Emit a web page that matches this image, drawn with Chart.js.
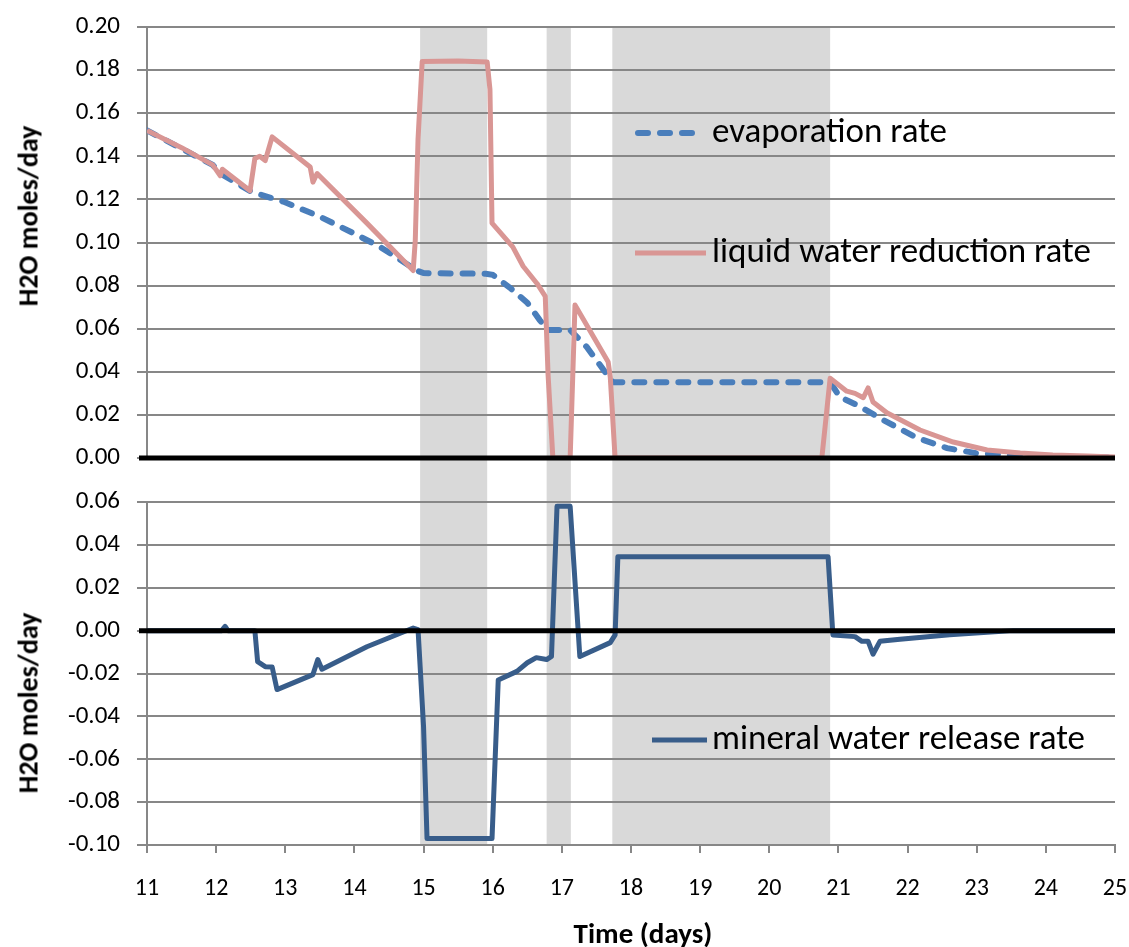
<!DOCTYPE html>
<html>
<head>
<meta charset="utf-8">
<title>H2O rates</title>
<script src="https://cdn.jsdelivr.net/npm/chart.js@4.4.1/dist/chart.umd.min.js"></script>
<style>
  body { margin: 0; background: #fff; }
  #wrap { position: relative; width: 1129px; height: 947px; font-family: Carlito, Lato, sans-serif; color: #000; }
  canvas { position: absolute; left: 0; }
  #topChart { top: 0; }
  #botChart { top: 480px; }
  .ytitle { position: absolute; font-weight: bold; font-size: 28px; white-space: nowrap;
            transform: translate(-50%, -50%) rotate(-90deg); }
  .xtitle { position: absolute; font-weight: bold; font-size: 29px; white-space: nowrap;
            transform: translate(-50%, -50%); }
</style>
</head>
<body>
<div id="wrap">
  <canvas id="topChart" width="1129" height="480"></canvas>
  <canvas id="botChart" width="1129" height="467"></canvas>
  <div class="ytitle" style="left:28px; top:216px;">H2O moles/day</div>
  <div class="ytitle" style="left:28px; top:703px;">H2O moles/day</div>
  <div class="xtitle" style="left:643px; top:933px;">Time (days)</div>
</div>
<script>
// time axis (days)
const timeMin = 11, timeMax = 25;

// periods shaded in grey, [start, end] in days
const shadedPeriods = [[14.95, 15.92], [16.78, 17.13], [17.73, 20.88]];

// liquid water reduction rate
const liquidT = [11.0, 11.5, 11.95, 12.06, 12.09, 12.49, 12.56, 12.63, 12.71, 12.81, 13.36, 13.40, 13.46, 14.18, 14.85,
  14.88, 14.92, 14.98, 15.50, 15.92, 15.96, 15.99, 16.29, 16.44, 16.64, 16.76, 16.80, 16.87, 17.12, 17.19, 17.67, 17.70,
  17.77, 20.76, 20.88, 21.12, 21.24, 21.36, 21.43, 21.50, 21.70, 22.18, 22.66, 23.15, 23.63, 24.10, 24.60, 25.0];
const liquidV = [0.152, 0.144, 0.136, 0.131, 0.134, 0.124, 0.139, 0.140, 0.138, 0.149, 0.135, 0.128, 0.132, 0.109, 0.087,
  0.101, 0.148, 0.184, 0.1842, 0.1838, 0.171, 0.109, 0.098, 0.089, 0.081, 0.075, 0.039, 0.0, 0.0, 0.071, 0.0445, 0.0376,
  0.0, 0.0, 0.037, 0.031, 0.030, 0.028, 0.0325, 0.026, 0.021, 0.013, 0.0074, 0.0037, 0.0023, 0.0014, 0.0009, 0.0005];

// evaporation rate
const evapT = [11.0, 11.95, 12.06, 12.52, 12.97, 13.5, 13.98, 14.37, 14.66, 14.9, 15.0, 15.9, 16.0, 16.25, 16.5, 16.68,
  16.8, 17.12, 17.36, 17.6, 17.74, 20.88, 21.02, 21.27, 21.65, 22.14, 22.57, 23.0, 23.5, 24.0, 25.0];
const evapV = [0.152, 0.136, 0.132, 0.1234, 0.119, 0.112, 0.1044, 0.098, 0.092, 0.087, 0.0858, 0.0855, 0.085, 0.079,
  0.072, 0.064, 0.0594, 0.0594, 0.0515, 0.041, 0.0352, 0.0352, 0.0283, 0.0246, 0.0176, 0.0093, 0.0046, 0.0022, 0.0012,
  0.0006, 0.0002];

// mineral water release rate
const mineralT = [11.0, 12.08, 12.13, 12.17, 12.56, 12.60, 12.71, 12.81, 12.88, 13.40, 13.47, 13.53, 14.18, 14.85, 14.92,
  15.0, 15.05, 15.99, 16.08, 16.35, 16.50, 16.63, 16.78, 16.85, 16.93, 17.12, 17.26, 17.70, 17.77, 17.81, 20.85, 20.92,
  21.24, 21.34, 21.43, 21.50, 21.60, 21.89, 22.61, 23.53, 25.0];
const mineralV = [0, 0, 0.002, 0, 0, -0.0145, -0.0168, -0.017, -0.0275, -0.0205, -0.0135, -0.018, -0.0075, 0.0012, 0.0005,
  -0.045, -0.097, -0.097, -0.023, -0.019, -0.015, -0.0126, -0.0135, -0.012, 0.058, 0.058, -0.0121, -0.0056, -0.002, 0.0345,
  0.0345, -0.002, -0.0028, -0.005, -0.005, -0.011, -0.005, -0.004, -0.0019, 0, 0];

// y tick ranges
const topTicks = { min: 0, max: 0.20, step: 0.02 };
const botTicks = { min: -0.10, max: 0.06, step: 0.02 };

const points = (ts, vs) => ts.map((t, i) => ({ x: t, y: vs[i] }));

const FONT = 'Carlito, Lato, sans-serif';
const GRID = '#878787';

// grey bands behind everything
const shading = {
  id: 'shading',
  beforeDraw(chart, args, opts) {
    const { ctx, chartArea } = chart;
    const xs = chart.scales.x;
    const y0 = opts.toTop ? 0 : chartArea.top;
    const y1 = opts.toBottom ? chart.height : chartArea.bottom;
    ctx.save();
    ctx.fillStyle = '#d9d9d9';
    shadedPeriods.forEach(([a, b]) => {
      const x0 = xs.getPixelForValue(a), x1 = xs.getPixelForValue(b);
      ctx.fillRect(x0, y0, x1 - x0, y1 - y0);
    });
    ctx.restore();
  }
};

// heavy black line at zero, over the series
const zeroLine = {
  id: 'zeroLine',
  afterDatasetsDraw(chart) {
    const { ctx, chartArea } = chart;
    const y = chart.scales.y.getPixelForValue(0);
    ctx.save();
    ctx.strokeStyle = '#000';
    ctx.lineWidth = 5;
    ctx.beginPath();
    ctx.moveTo(chartArea.left - 8, y);
    ctx.lineTo(chartArea.right, y);
    ctx.stroke();
    ctx.restore();
  }
};

// legend entries placed inside the plot
const inlineLegend = {
  id: 'inlineLegend',
  afterDraw(chart, args, opts) {
    const { ctx } = chart;
    (opts.items || []).forEach(it => {
      const ds = chart.data.datasets[it.index];
      ctx.save();
      ctx.strokeStyle = ds.borderColor;
      ctx.lineWidth = ds.borderWidth;
      ctx.lineCap = ds.borderCapStyle || 'butt';
      ctx.setLineDash(ds.borderDash || []);
      ctx.beginPath();
      ctx.moveTo(it.x0, it.y);
      ctx.lineTo(it.x1, it.y);
      ctx.stroke();
      ctx.setLineDash([]);
      ctx.fillStyle = '#000';
      ctx.font = '35px ' + FONT;
      ctx.textBaseline = 'middle';
      ctx.fillText(ds.label, it.tx, it.y);
      ctx.restore();
    });
  }
};

// let the layout padding alone decide where the plot area sits
function noOverflow(s) {
  s.paddingTop = s.paddingBottom = s.paddingLeft = s.paddingRight = 0;
}

function yScale(r) {
  return {
    min: r.min, max: r.max,
    afterFit(s) { s.width = 147; noOverflow(s); },
    border: { color: GRID, width: 2 },
    grid: { color: GRID, lineWidth: 2, tickLength: 10 },
    ticks: {
      stepSize: r.step, padding: 17, color: '#000', font: { size: 25, family: FONT },
      callback: v => (Math.abs(v) < 1e-9 ? 0 : v).toFixed(2)
    }
  };
}

function xScale(show) {
  return {
    type: 'linear', min: timeMin, max: timeMax, display: show,
    afterFit(s) { if (show) s.height = 70; noOverflow(s); },
    border: { color: GRID, width: 2 },
    grid: { drawOnChartArea: false, color: GRID, lineWidth: 2, tickLength: 8 },
    ticks: { stepSize: 1, padding: 22, color: '#000', font: { size: 24, family: FONT }, maxRotation: 0 }
  };
}

const base = {
  responsive: false,
  animation: false,
  devicePixelRatio: 1,
  elements: { point: { radius: 0 }, line: { tension: 0 } },
};

new Chart(document.getElementById('topChart'), {
  type: 'line',
  data: {
    datasets: [
      { label: 'liquid water reduction rate', data: points(liquidT, liquidV), borderColor: '#d99694',
        borderWidth: 5, borderJoinStyle: 'round' },
      { label: 'evaporation rate', data: points(evapT, evapV), borderColor: '#4a7ebb',
        borderWidth: 6, borderDash: [10, 12], borderCapStyle: 'round' }
    ]
  },
  options: {
    ...base,
    layout: { padding: { top: 27, right: 14, bottom: 22, left: 0 } },
    scales: { x: xScale(false), y: yScale(topTicks) },
    plugins: {
      legend: { display: false }, tooltip: { enabled: false },
      shading: { toBottom: true },
      inlineLegend: { items: [
        { index: 1, x0: 638, x1: 698, y: 133, tx: 712 },
        { index: 0, x0: 635, x1: 706, y: 253, tx: 712 }
      ] }
    }
  },
  plugins: [shading, zeroLine, inlineLegend]
});

new Chart(document.getElementById('botChart'), {
  type: 'line',
  data: {
    datasets: [
      { label: 'mineral water release rate', data: points(mineralT, mineralV), borderColor: '#385d8a',
        borderWidth: 5, borderJoinStyle: 'round' }
    ]
  },
  options: {
    ...base,
    layout: { padding: { top: 22, right: 14, bottom: 32, left: 0 } },
    scales: { x: xScale(true), y: yScale(botTicks) },
    plugins: {
      legend: { display: false }, tooltip: { enabled: false },
      shading: { toTop: true },
      inlineLegend: { items: [
        { index: 0, x0: 652, x1: 707, y: 260, tx: 712 }
      ] }
    }
  },
  plugins: [shading, zeroLine, inlineLegend]
});
</script>
</body>
</html>
